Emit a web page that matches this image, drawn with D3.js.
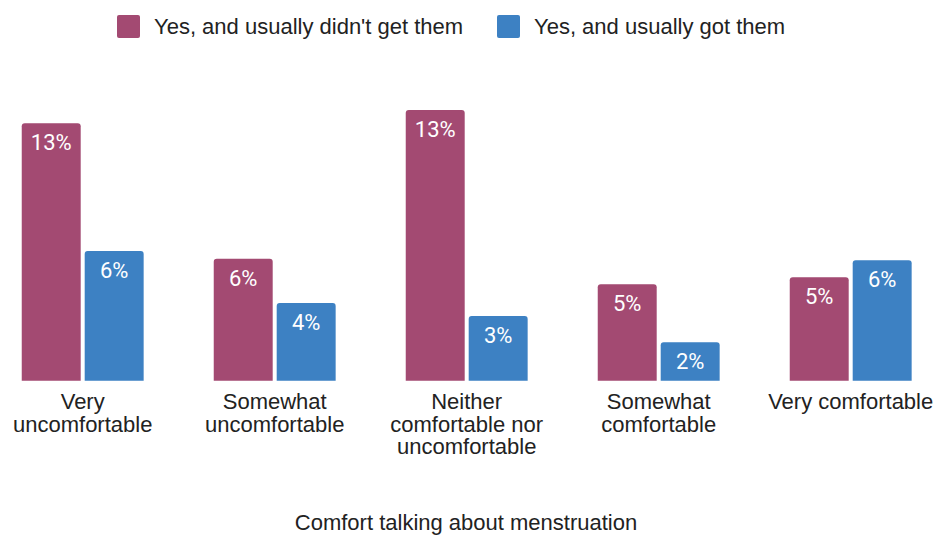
<!DOCTYPE html>
<html>
<head>
<meta charset="utf-8">
<script src="https://cdn.jsdelivr.net/npm/d3@7"></script>
<style>
  html, body { margin: 0; padding: 0; background: #fff; }
  svg { display: block; }
</style>
</head>
<body>
<svg id="chart" width="937" height="535"></svg>
<script>
// Categories along the x axis (line breaks shown as separate lines)
const categories = [
  ["Very", "uncomfortable"],
  ["Somewhat", "uncomfortable"],
  ["Neither", "comfortable nor", "uncomfortable"],
  ["Somewhat", "comfortable"],
  ["Very comfortable"]
];
const seriesNames = ["Yes, and usually didn't get them", "Yes, and usually got them"];
const seriesColors = ["#a34a72", "#3d81c3"];
// Share of respondents (%), per category
const didntGet = [12.68, 6.01, 13.33, 4.75, 5.09];
const got      = [6.39, 3.83, 3.19, 1.89, 5.93];
const axisTitle = "Comfort talking about menstruation";

const svg = d3.select("#chart");
const baseline = 380.7;
const textColor = "#222";
const font = "'Liberation Sans', Arial, sans-serif";

const catKeys = categories.map(c => c.join(" "));
const x0 = d3.scaleBand()
  .domain(catKeys)
  .range([-13.3, 946.7])
  .paddingInner(0.365)
  .paddingOuter(0.1825);
const x1 = d3.scaleBand()
  .domain(seriesNames)
  .range([0, x0.bandwidth()])
  .paddingInner(0.0635);
const y = d3.scaleLinear().domain([0, 14]).range([baseline, baseline - 14 * 20.3]);

const rows = catKeys.map((k, i) => ({
  key: k,
  lines: categories[i],
  values: [didntGet[i], got[i]]
}));

// Bar with rounded top corners
function barPath(x, yTop, w, h, r) {
  r = Math.min(r, h, w / 2);
  return `M${x},${yTop + h}V${yTop + r}Q${x},${yTop} ${x + r},${yTop}` +
         `H${x + w - r}Q${x + w},${yTop} ${x + w},${yTop + r}V${yTop + h}Z`;
}

const groups = svg.append("g").selectAll("g")
  .data(rows).join("g")
  .attr("transform", d => `translate(${x0(d.key)},0)`);

const bars = groups.selectAll("g.bar")
  .data(d => d.values.map((v, j) => ({ v, s: seriesNames[j], j })))
  .join("g").attr("class", "bar");

bars.append("path")
  .attr("d", d => barPath(x1(d.s), y(d.v), x1.bandwidth(), baseline - y(d.v), 3))
  .attr("fill", d => seriesColors[d.j]);

bars.append("text")
  .attr("x", d => x1(d.s) + x1.bandwidth() / 2)
  .attr("y", d => y(d.v) + 27)
  .attr("text-anchor", "middle")
  .attr("font-family", "Roboto, sans-serif")
  .attr("font-size", 22)
  .attr("fill", "#fff")
  .text(d => Math.round(d.v) + "%");

// Category labels
const xAxis = svg.append("g");
xAxis.selectAll("text")
  .data(rows).join("text")
  .attr("x", d => x0(d.key) + x0.bandwidth() / 2)
  .attr("y", 409)
  .attr("text-anchor", "middle")
  .attr("font-family", font)
  .attr("font-size", 22)
  .attr("fill", textColor)
  .selectAll("tspan")
  .data(d => d.lines.map((l, i) => ({ l, i, x: x0(d.key) + x0.bandwidth() / 2 })))
  .join("tspan")
  .attr("x", d => d.x)
  .attr("dy", d => d.i === 0 ? 0 : 22.5)
  .text(d => d.l);

// Axis title
svg.append("text")
  .attr("x", 466)
  .attr("y", 530)
  .attr("text-anchor", "middle")
  .attr("font-family", font)
  .attr("font-size", 22)
  .attr("fill", textColor)
  .text(axisTitle);

// Legend
const legendX = [117, 497];
const legend = svg.append("g").selectAll("g")
  .data(seriesNames).join("g")
  .attr("transform", (d, i) => `translate(${legendX[i]},15)`);
legend.append("rect")
  .attr("width", 23).attr("height", 23).attr("rx", 2)
  .attr("fill", (d, i) => seriesColors[i]);
legend.append("text")
  .attr("x", 37).attr("y", 19)
  .attr("font-family", font)
  .attr("font-size", 22)
  .attr("fill", textColor)
  .text(d => d);
</script>
</body>
</html>
